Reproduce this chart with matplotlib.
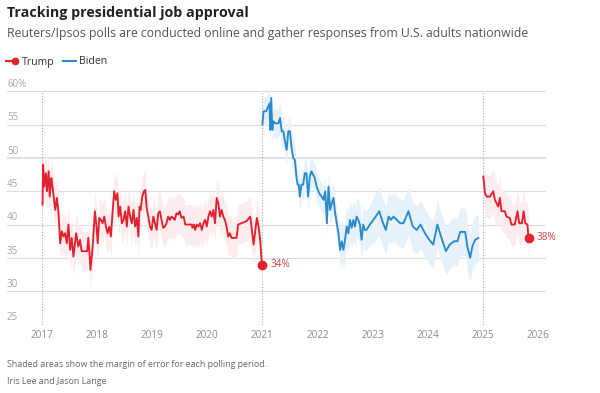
import matplotlib
matplotlib.use('Agg')
import matplotlib.pyplot as plt
import matplotlib.transforms as mtransforms
from matplotlib.lines import Line2D

plt.rcParams['font.family'] = ['Open Sans', 'DejaVu Sans']

RED = '#e3212f'
BLUE = '#2a8bcc'
RED_BAND = '#fdecee'
BLUE_BAND = '#e6f1fa'
GRID = '#dcdcdc'

# Trump, first term (decimal year, approval %)
trump1_dates = [
    2017.01, 2017.02, 2017.04, 2017.07, 2017.09, 2017.12, 2017.14, 2017.17, 2017.19, 2017.22,
    2017.24, 2017.27, 2017.30, 2017.33, 2017.36, 2017.39, 2017.42, 2017.45, 2017.48, 2017.51,
    2017.54, 2017.57, 2017.62, 2017.66, 2017.69, 2017.72, 2017.78, 2017.82, 2017.84, 2017.86,
    2017.88, 2017.92, 2017.96, 2017.99,
    2018.01, 2018.04, 2018.07, 2018.10, 2018.13, 2018.16, 2018.19, 2018.22, 2018.25, 2018.28,
    2018.31, 2018.34, 2018.37, 2018.39, 2018.42, 2018.45, 2018.48, 2018.51, 2018.54, 2018.57,
    2018.60, 2018.63, 2018.66, 2018.69, 2018.72, 2018.75, 2018.77, 2018.79, 2018.82, 2018.85,
    2018.875, 2018.90, 2018.93, 2018.96, 2018.99,
    2019.02, 2019.05, 2019.08, 2019.11, 2019.14, 2019.17, 2019.20, 2019.23, 2019.26, 2019.29,
    2019.32, 2019.35, 2019.38, 2019.41, 2019.44, 2019.47, 2019.50, 2019.53, 2019.57, 2019.60,
    2019.66, 2019.72, 2019.73, 2019.76, 2019.78, 2019.81, 2019.84, 2019.87, 2019.90, 2019.93,
    2019.96, 2019.99,
    2020.02, 2020.05, 2020.08, 2020.11, 2020.14, 2020.17, 2020.20, 2020.23, 2020.26, 2020.29,
    2020.32, 2020.35, 2020.38, 2020.41, 2020.44, 2020.53, 2020.56, 2020.71, 2020.78, 2020.84,
    2020.90, 2020.93, 2020.96, 2020.99,
]
trump1_approval = [
    43, 49, 45.7, 47.7, 45, 48, 44.2, 47, 45.7, 43.7,
    42.2, 44, 41.7, 37.2, 39, 38.2, 38.7, 37.2, 40, 36.2,
    38, 35.2, 38.7, 36.7, 37.7, 36, 36, 36, 38, 36,
    33.2, 36.7, 42, 39.7,
    37.2, 41, 40.7, 40.2, 41.2, 39.7, 38.7, 39.7, 38.2, 41.7,
    45, 43.7, 44.7, 41.2, 42.7, 40.2, 40.7, 42, 39.7, 42.7,
    41.2, 40.2, 42.2, 39.7, 41, 38.2, 42.7, 42.2, 44.2, 45,
    45.2, 42.5, 41.2, 39.7, 39.2,
    41.2, 40.2, 39.2, 41.7, 42, 40.7, 39.5, 39.7, 40.2, 41.2,
    40.7, 41.2, 41, 40.7, 41.7, 41.5, 42, 41, 41.2, 40,
    40, 40, 39.5, 40, 39.2, 40, 39.7, 40.2, 39.2, 40.2,
    40.7, 39.7,
    41.2, 42, 41.2, 42.2, 40.2, 44, 43.2, 41.2, 42.2, 41.2,
    40.7, 39.7, 38.2, 38.7, 38, 38, 40, 40.5, 41.2, 37,
    41, 39.7, 37.7, 34,
]
trump1_moe = 3.0

# Biden
biden_dates = [
    2021.00, 2021.02, 2021.07, 2021.13, 2021.14, 2021.16, 2021.18, 2021.20, 2021.23, 2021.26,
    2021.29, 2021.32, 2021.35, 2021.38, 2021.41, 2021.44, 2021.47, 2021.50, 2021.53, 2021.56,
    2021.59, 2021.62, 2021.64, 2021.66, 2021.68, 2021.71, 2021.74, 2021.77, 2021.80, 2021.83,
    2021.86, 2021.89, 2021.92, 2021.95, 2021.985, 2022.015, 2022.045, 2022.075, 2022.11, 2022.14,
    2022.17, 2022.20, 2022.23, 2022.26, 2022.29, 2022.32, 2022.35, 2022.38, 2022.41, 2022.44,
    2022.47, 2022.50, 2022.53, 2022.56, 2022.59, 2022.62, 2022.65, 2022.68, 2022.71, 2022.74,
    2022.77, 2022.80, 2022.83, 2022.86, 2022.89, 2022.95, 2023.04, 2023.12, 2023.19, 2023.24,
    2023.29, 2023.33, 2023.38, 2023.44, 2023.50, 2023.56, 2023.65, 2023.73, 2023.80, 2023.87,
    2023.95, 2024.03, 2024.10, 2024.175, 2024.25, 2024.33, 2024.40, 2024.48, 2024.54, 2024.59,
    2024.68, 2024.72, 2024.77, 2024.81, 2024.86, 2024.92,
]
biden_approval = [
    55, 57, 57, 58.2, 54.2, 59, 54.2, 55.5, 55.2, 55.2,
    55.2, 56, 54, 54, 52.5, 51.2, 54, 54, 51.5, 50,
    49.7, 47, 46, 46, 44.2, 46, 46, 47.7, 47.7, 44.2,
    47.2, 48, 47.5, 47, 45.7, 45, 44.5, 44.2, 43.7, 45,
    40.2, 45.7, 42.2, 43.2, 44, 41.7, 40.2, 38.7, 36.2, 37.5,
    36.2, 37.7, 39.7, 38.7, 40.7, 39.5, 40.7, 39.7, 41.2, 40.7,
    40, 37.7, 40, 39.2, 39.2, 40, 41, 42, 40.2, 39.2,
    41.2, 40.7, 41.2, 40.7, 40.2, 40.2, 42, 39.7, 39.2, 40,
    38.7, 37.7, 37, 40, 38, 36, 37, 37.5, 37.5, 38.9,
    38.9, 36.7, 35, 36.7, 37.7, 38,
]
biden_moe = [2.2] * 48 + [3.0] * 18 + [3.6] * 30

# Trump, second term
trump2_dates = [
    2025.01, 2025.04, 2025.07, 2025.13, 2025.19, 2025.22, 2025.25, 2025.28, 2025.31, 2025.34,
    2025.40, 2025.43, 2025.49, 2025.52, 2025.58, 2025.63, 2025.66, 2025.71, 2025.74, 2025.77,
    2025.81, 2025.83,
]
trump2_approval = [
    47.2, 44.7, 44.2, 44.2, 45, 43.7, 43.2, 42.7, 44, 42,
    42, 41.2, 41, 40, 40, 42, 40.2, 40.2, 42, 40.2,
    40, 38,
]
trump2_moe = 3.2

year_ticks = [2017, 2018, 2019, 2020, 2021, 2022, 2023, 2024, 2025, 2026]
y_ticks = [25, 30, 35, 40, 45, 50, 55, 60]
term_starts = [2017, 2021, 2025]

fig = plt.figure(figsize=(6, 3.93), dpi=100)
ax = fig.add_axes([7 / 600, 1 - 324.5 / 393, 539 / 600, 246.5 / 393])
ax.set_xlim(2016.365, 2026.147)
ax.set_ylim(25, 62)

for v in y_ticks:
    ax.axhline(v, color=GRID, lw=1.3 if v == 50 else 0.8, zorder=0)
for yr in term_starts:
    ax.plot([yr, yr], [25, 60], color='#a8a8a8', lw=0.8, ls=(0, (1, 1.6)), zorder=1)


def draw(dates, vals, moe, color, band):
    if isinstance(moe, list):
        lo = [v - m for v, m in zip(vals, moe)]
        hi = [v + m for v, m in zip(vals, moe)]
    else:
        lo = [v - moe for v in vals]
        hi = [v + moe for v in vals]
    ax.fill_between(dates, lo, hi, color=band, lw=0, zorder=2)
    ax.plot(dates, vals, color=color, lw=1.35, zorder=3, solid_joinstyle='round')


draw(trump1_dates, trump1_approval, trump1_moe, RED, RED_BAND)
draw(biden_dates, biden_approval, biden_moe, BLUE, BLUE_BAND)
draw(trump2_dates, trump2_approval, trump2_moe, RED, RED_BAND)

for d, v in [(trump1_dates[-1], trump1_approval[-1]), (trump2_dates[-1], trump2_approval[-1])]:
    ax.plot(d, v, 'o', color=RED, ms=6, zorder=4)
    ax.annotate(f'{v:.0f}%', (d, v), xytext=(6, 0), textcoords='offset points',
                va='center', ha='left', fontsize=7.2, color='#d2404c')

for s in ax.spines.values():
    s.set_visible(False)
ax.set_yticks([])
ax.set_xticks(year_ticks)
ax.set_xticklabels([str(y) for y in year_ticks])
ax.tick_params(axis='x', length=0, pad=4, labelsize=7.2, labelcolor='#8c8c8c')

trans = mtransforms.blended_transform_factory(ax.transAxes, ax.transData)
for v in y_ticks:
    label = f'{v}%' if v == 60 else str(v)
    ax.text(0, v + 0.65, label, transform=trans, ha='left', va='baseline',
            fontsize=7, color='#a6a6a6')

# header
fig.text(7 / 600, 1 - 17 / 393, 'Tracking presidential job approval', fontsize=10.3,
         fontweight='bold', color='#222222', va='baseline')
fig.text(7 / 600, 1 - 37.5 / 393,
         'Reuters/Ipsos polls are conducted online and gather responses from U.S. adults nationwide',
         fontsize=8.85, color='#555555', va='baseline')

# legend
ly = 1 - 60.7 / 393
fig.add_artist(Line2D([6 / 600, 17 / 600], [ly, ly], transform=fig.transFigure, color=RED, lw=1.5))
fig.add_artist(Line2D([14.5 / 600], [ly], transform=fig.transFigure, color=RED, marker='o', ms=4.5))
fig.text(22 / 600, 1 - 64.5 / 393, 'Trump', fontsize=7.6, color='#333333', va='baseline')
fig.add_artist(Line2D([63 / 600, 75.5 / 600], [ly, ly], transform=fig.transFigure, color=BLUE, lw=1.5))
fig.text(79 / 600, 1 - 64.5 / 393, 'Biden', fontsize=7.6, color='#333333', va='baseline')

# footer
fig.text(7 / 600, 1 - 367 / 393, 'Shaded areas show the margin of error for each polling period.',
         fontsize=6.4, color='#666666', va='baseline')
fig.text(7 / 600, 1 - 384 / 393, 'Iris Lee and Jason Lange', fontsize=6.4, color='#666666',
         va='baseline')

fig.savefig('out.png', dpi=100)
